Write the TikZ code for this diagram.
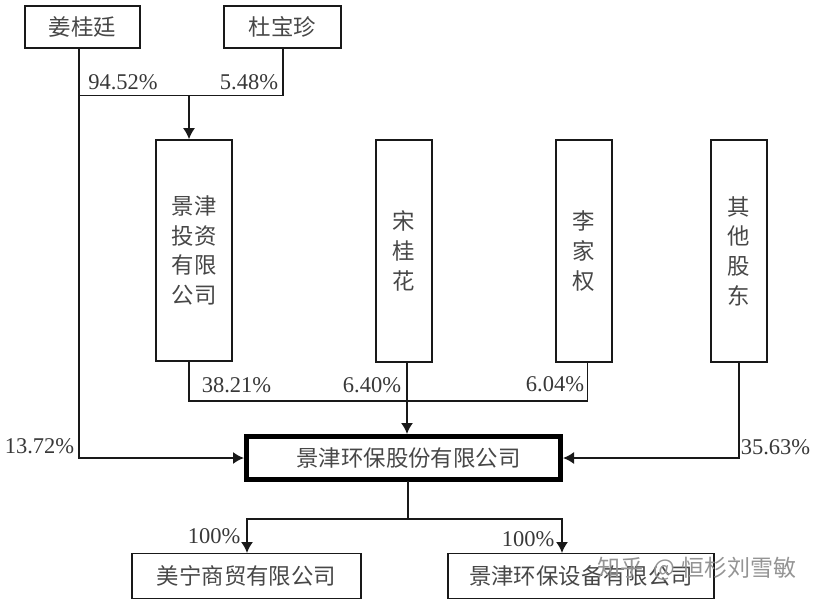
\documentclass[tikz,border=0pt]{standalone}
\usepackage{fontspec}
\setmainfont{Liberation Serif}
\newfontfamily\cjk{Noto Sans CJK SC}
\usetikzlibrary{arrows.meta, positioning}

\begin{document}
\begin{tikzpicture}[x=1pt,y=-1pt,
        box/.style={draw=black!90, line width=1.6pt, inner sep=0pt, font=\cjk\fontsize{22.4}{29.7}\selectfont, text=black!72, align=center},
        mainbox/.style={box, line width=5pt, draw=black},
        pct/.style={font=\fontsize{22.5}{25}\selectfont, text=black!78, inner sep=0pt},
        line/.style={draw=black!90, line width=1.6pt},
        arrow/.style={line, -{Latex[length=11pt,width=12pt]}}]
        \useasboundingbox (0,0) rectangle (820,603);

        % shareholders
        \node[box, minimum width=115pt, minimum height=42pt] (jiang)  at (82.5,27)   {姜桂廷};
        \node[box, minimum width=117pt, minimum height=42pt] (du)     at (282.5,27)  {杜宝珍};
        \node[box, minimum width=76pt, minimum height=221pt] (touzi)  at (194,250.5) {景津\\投资\\有限\\公司};
        \node[box, minimum width=56pt, minimum height=222pt] (song)   at (404,251)   {宋\\桂\\花};
        \node[box, minimum width=56pt, minimum height=222pt] (li)     at (584,251)   {李\\家\\权};
        \node[box, minimum width=56pt, minimum height=222pt] (others) at (739,251)   {其\\他\\股\\东};

        % companies
        \node[mainbox, minimum width=314pt, minimum height=43pt] (jingjin) at (403.5,458) {\hspace*{10pt}景津环保股份有限公司};
        \node[box, minimum width=229pt, minimum height=45pt] (meining) at (246.5,576) {美宁商贸有限公司};
        \node[box, minimum width=266pt, minimum height=45pt] (shebei)  at (581,576)   {景津环保设备有限公司};

        % ends of the connectors
        \coordinate (jiangout)   at (79,48);
        \coordinate (joint)      at (189,95.5);
        \coordinate (duin)       at (283,95.5);
        \coordinate (sumleft)    at (189,401);
        \coordinate (sumright)   at (587.5,401);
        \coordinate (jingjinin)  at (407,434);
        \coordinate (jingjinout) at (408,481);
        \coordinate (split)      at (408,519);
        \coordinate (meiningin)  at (247,553);
        \coordinate (shebeiin)   at (562,553);

        \path[line]  (du.south -| duin) -- (duin) -- (joint -| jiangout);
        \path[arrow] (joint) -- (joint |- touzi.north);
        \path[arrow] (jiangout) -- (jiangout |- jingjin.west) -- (jingjin.west);
        \path[line]  (touzi.south -| sumleft) -- (sumleft) -- (sumright) -- (li.south -| sumright);
        \path[arrow] (song.south -| jingjinin) -- (jingjinin);
        \path[arrow] (others.south) -- (others.south |- jingjin.east) -- (jingjin.east);
        \path[line]  (jingjinout) -- (split);
        \path[arrow] (split) -- (split -| meiningin) -- (meiningin);
        \path[arrow] (split) -- (split -| shebeiin) -- (shebeiin);

        % percentages
        \node[pct] (p1) at (123,82)    {94.52\%};
        \node[pct] (p2) at (249,82)    {5.48\%};
        \node[pct] (p3) at (236.5,385) {38.21\%};
        \node[pct] (p4) at (372,385)   {6.40\%};
        \node[pct] (p5) at (555,384)   {6.04\%};
        \node[pct] (p6) at (39.5,446)  {13.72\%};
        \node[pct] (p7) at (775.5,447) {35.63\%};
        \node[pct] (p8) at (214,536)   {100\%};
        \node[pct] (p9) at (528,539.5) {100\%};

        % watermark
        \node[font=\cjk\fontsize{23}{27}\selectfont, text=black!42, inner sep=0pt, anchor=west] (mark) at (597,569) {知乎\hspace{10pt}@\hspace{7pt}恒杉刘雪敏};
    \end{tikzpicture}
\end{document}
